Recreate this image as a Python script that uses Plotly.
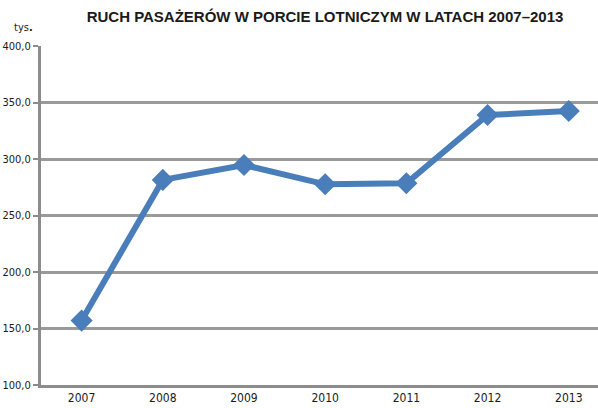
import plotly.graph_objects as go

years = ["2007", "2008", "2009", "2010", "2011", "2012", "2013"]
passengers = [157.0, 281.5, 294.7, 277.6, 278.6, 338.9, 342.5]
y_ticks = [100, 150, 200, 250, 300, 350, 400]
y_tick_labels = ["100,0", "150,0", "200,0", "250,0", "300,0", "350,0", "400,0"]

narrow = "DejaVu Sans Condensed, Liberation Sans Narrow, Arial Narrow, sans-serif"

W, H = 598, 408

fig = go.Figure()
fig.add_trace(go.Scatter(
    x=list(range(len(years))), y=passengers, mode="lines+markers",
    line=dict(color="#4A7EBB", width=6),
    marker=dict(symbol="diamond", size=17, color="#4A7EBB"),
    showlegend=False, hoverinfo="skip"))

fig.update_layout(
    width=W, height=H,
    margin=dict(l=41, r=0, t=46, b=23, autoexpand=False),
    paper_bgcolor="white", plot_bgcolor="white",
    title=dict(text="<b>RUCH PASAŻERÓW W PORCIE LOTNICZYM W LATACH 2007–2013</b>",
               x=325 / W, xanchor="center", xref="container",
               y=1 - 17 / H, yanchor="middle", yref="container",
               font=dict(family="Liberation Sans, Arial", size=15, color="#1a1a1a")),
    xaxis=dict(range=[-0.5, 6.36], tickvals=list(range(len(years))), ticktext=years,
               showgrid=False, zeroline=False, showline=True, linecolor="#8C8C8C",
               linewidth=3, ticks="", fixedrange=True, automargin=False,
               tickfont=dict(family=narrow, size=12, color="#1a1a1a")),
    yaxis=dict(range=[100, 400], tickvals=y_ticks, ticktext=y_tick_labels,
               showgrid=True, gridcolor="#9A9A9A", gridwidth=2.5, zeroline=False,
               showline=True, linecolor="#8C8C8C", linewidth=3,
               ticks="outside", ticklen=5, tickwidth=2, tickcolor="#8C8C8C",
               fixedrange=True, automargin=False,
               tickfont=dict(family=narrow, size=11, color="#1a1a1a")),
)
fig.add_annotation(text="tys<b>.</b>", xref="paper", yref="paper",
                   x=-29 / 557, y=1 + 18 / 339, xanchor="left", yanchor="middle",
                   showarrow=False,
                   font=dict(family=narrow, size=11, color="#1a1a1a"))

# remove the browser's default 8px body margin so the figure fills the window
fig.write_html("out.html", config={"displayModeBar": False},
               post_script="document.body.style.margin='0';")
